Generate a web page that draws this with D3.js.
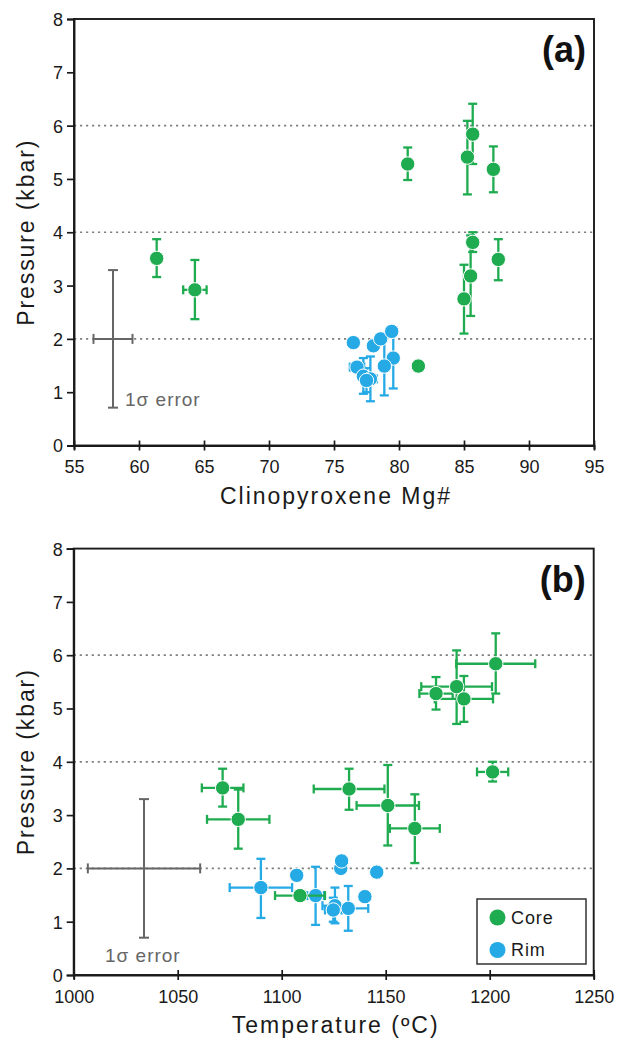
<!DOCTYPE html>
<html><head><meta charset="utf-8">
<script src="https://cdn.jsdelivr.net/npm/d3@7/dist/d3.min.js"></script>
<style>
html,body{margin:0;padding:0;background:#fff;}
svg{display:block;}
text{font-family:"Liberation Sans",Arial,Helvetica,sans-serif;}
</style></head>
<body>
<svg id="chart" width="617" height="1045"></svg>
<script>
// ---------- DATA ----------
// Core (green)
const coreMg   = [61.36, 64.3, 80.67, 85.26, 85.67, 87.26, 85.67, 87.64, 85.51, 85.0, 81.49];
const coreT    = [1071.6, 1079.1, 1174.2, 1184.1, 1202.9, 1187.6, 1201.4, 1132.4, 1151, 1164, 1108.8];
const coreP    = [3.51, 2.92, 5.28, 5.41, 5.84, 5.18, 3.81, 3.49, 3.18, 2.75, 1.49];
const corePLo  = [3.16, 2.37, 4.98, 4.71, 5.28, 4.75, 3.63, 3.10, 2.43, 2.10, 1.42];
const corePHi  = [3.87, 3.48, 5.59, 6.09, 6.41, 5.61, 4.00, 3.87, 3.94, 3.39, 1.58];
const coreMgErr= [0, 0.9, 0, 0, 0, 0, 0, 0, 0, 0, 0];
const coreTErr = [10, 15, 8, 17, 19, 14, 7.5, 17, 15, 12, 12];
// Rim (blue)
const rimMg    = [76.49, 78.03, 78.59, 79.44, 79.56, 78.87, 76.77, 77.26, 77.8, 77.5];
const rimT     = [1145.7, 1107.2, 1128.4, 1128.8, 1090, 1116.3, 1140, 1125.6, 1132, 1124.8];
const rimP     = [1.93, 1.87, 2.0, 2.14, 1.64, 1.49, 1.47, 1.30, 1.25, 1.22];
const rimPLo   = [1.93, 1.87, 2.0, 2.14, 1.07, 0.94, 1.47, 0.97, 0.83, 1.00];
const rimPHi   = [1.93, 1.87, 2.0, 2.14, 2.18, 2.03, 1.47, 1.64, 1.67, 1.45];
const rimMgErr = [0, 0, 0, 0, 0, 0, 0.55, 0.3, 0.5, 0.3];
const rimTErr  = [0, 0, 0, 0, 15, 4, 0, 6, 9.6, 4];
// Axes
const yTicks  = [0, 1, 2, 3, 4, 5, 6, 7, 8];
const mgTicks = [55, 60, 65, 70, 75, 80, 85, 90, 95];
const tTicks  = [1000, 1050, 1100, 1150, 1200, 1250];
const gridP   = [2, 4, 6];
// 1-sigma reference error crosses
const sigmaA = {x: 58.0, y: 2, xErr: 1.5, yLo: 0.71, yHi: 3.29};
const sigmaB = {x: 1033.8, y: 2, xErr: 27, yLo: 0.7, yHi: 3.3};
const legendLabels = ["Core", "Rim"];

// ---------- STYLE ----------
const GREEN = "#1fab4f", BLUE = "#25aae6", AX = "#1a1a1a", GRAY = "#666";
const svg = d3.select("#chart");

function buildSeries(mg, t, p, lo, hi, mgE, tE) {
  return mg.map((d, i) => ({mg: d, t: t[i], p: p[i], lo: lo[i], hi: hi[i], mgE: mgE[i], tE: tE[i]}));
}
const core = buildSeries(coreMg, coreT, coreP, corePLo, corePHi, coreMgErr, coreTErr);
const rim  = buildSeries(rimMg, rimT, rimP, rimPLo, rimPHi, rimMgErr, rimTErr);

function panel(opts) {
  const {x0, x1, yBot, yTop, xDomain, xTicks, xKey, xErrKey, xTitle, label, sigma, sigmaTextPos, legend} = opts;
  const x = d3.scaleLinear().domain(xDomain).range([x0, x1]);
  const y = d3.scaleLinear().domain([0, 8]).range([yBot, yTop]);
  const g = svg.append("g");

  // grid
  g.selectAll("line.grid").data(gridP).join("line")
    .attr("x1", x0).attr("x2", x1).attr("y1", d => y(d)).attr("y2", d => y(d))
    .attr("stroke", "#808080").attr("stroke-width", 1.7).attr("stroke-dasharray", "2.2,3.8");

  // frame
  g.append("rect").attr("x", x0).attr("y", yTop).attr("width", x1 - x0).attr("height", yBot - yTop)
    .attr("fill", "none").attr("stroke", AX).attr("stroke-width", 1.9);

  // axes
  const ya = d3.axisLeft(y).tickValues(yTicks).tickSize(7).tickPadding(4).tickFormat(d3.format("d"));
  const ga = g.append("g").attr("transform", `translate(${x0},0)`).call(ya);
  ga.select(".domain").attr("stroke", AX).attr("stroke-width", 1.9);
  ga.selectAll(".tick line").attr("stroke", AX).attr("stroke-width", 1.7).attr("x2", -7).attr("x1", 1);
  ga.selectAll(".tick text").attr("font-size", 18).attr("fill", AX).attr("dy", "0.36em")
    .attr("font-family", '"Liberation Sans",Arial,sans-serif');

  const xa = d3.axisBottom(x).tickValues(xTicks).tickSize(4).tickPadding(11).tickFormat(d3.format("d"));
  const gx = g.append("g").attr("transform", `translate(0,${yBot})`).call(xa);
  gx.select(".domain").attr("stroke", AX).attr("stroke-width", 1.9);
  gx.selectAll(".tick line").attr("stroke", AX).attr("stroke-width", 1.7).attr("y1", -5).attr("y2", 5);
  gx.selectAll(".tick text").attr("font-size", 18).attr("fill", AX)
    .attr("font-family", '"Liberation Sans",Arial,sans-serif');

  // titles
  g.append("text").attr("transform", `translate(34,${(yBot + yTop) / 2}) rotate(-90)`)
    .attr("text-anchor", "middle").attr("font-size", 23).attr("letter-spacing", 1.9).attr("fill", AX)
    .text("Pressure (kbar)");
  g.append("text").attr("x", (x0 + x1) / 2 + 2).attr("y", yBot + 58)
    .attr("text-anchor", "middle").attr("font-size", 23).attr("letter-spacing", 2).attr("fill", AX)
    .text(xTitle);
  g.append("text").attr("x", x1 - 8).attr("y", yTop + 43).attr("text-anchor", "end")
    .attr("font-size", 36).attr("font-weight", "bold").attr("fill", "#111").text(label);

  // sigma cross
  const sg = g.append("g").attr("stroke", GRAY).attr("stroke-width", 2);
  const sx = x(sigma.x), sy = y(sigma.y);
  sg.append("line").attr("x1", sx).attr("x2", sx).attr("y1", y(sigma.yLo)).attr("y2", y(sigma.yHi));
  sg.append("line").attr("x1", x(sigma.x - sigma.xErr)).attr("x2", x(sigma.x + sigma.xErr)).attr("y1", sy).attr("y2", sy);
  [[sx - 5, sx + 5, y(sigma.yLo), y(sigma.yLo)], [sx - 5, sx + 5, y(sigma.yHi), y(sigma.yHi)],
   [x(sigma.x - sigma.xErr), x(sigma.x - sigma.xErr), sy - 5, sy + 5],
   [x(sigma.x + sigma.xErr), x(sigma.x + sigma.xErr), sy - 5, sy + 5]].forEach(c =>
    sg.append("line").attr("x1", c[0]).attr("x2", c[1]).attr("y1", c[2]).attr("y2", c[3]));
  g.append("text").attr("x", sigmaTextPos[0]).attr("y", sigmaTextPos[1]).attr("font-size", 19)
    .attr("fill", GRAY).attr("letter-spacing", 1).text("1σ error");

  // points
  function drawSeries(data, color) {
    const eg = g.append("g").attr("stroke", color).attr("stroke-width", 2.3).attr("fill", "none");
    const cap = 4.5;
    data.forEach(d => {
      const cx = x(d[xKey]), cy = y(d.p);
      if (d.hi > d.lo) {
        eg.append("line").attr("x1", cx).attr("x2", cx).attr("y1", y(d.lo)).attr("y2", y(d.hi));
        eg.append("line").attr("x1", cx - cap).attr("x2", cx + cap).attr("y1", y(d.lo)).attr("y2", y(d.lo));
        eg.append("line").attr("x1", cx - cap).attr("x2", cx + cap).attr("y1", y(d.hi)).attr("y2", y(d.hi));
      }
      const e = d[xErrKey];
      if (e > 0) {
        const xl = x(d[xKey] - e), xr = x(d[xKey] + e);
        eg.append("line").attr("x1", xl).attr("x2", xr).attr("y1", cy).attr("y2", cy);
        eg.append("line").attr("x1", xl).attr("x2", xl).attr("y1", cy - cap).attr("y2", cy + cap);
        eg.append("line").attr("x1", xr).attr("x2", xr).attr("y1", cy - cap).attr("y2", cy + cap);
      }
    });
    g.append("g").selectAll("circle").data(data).join("circle")
      .attr("cx", d => x(d[xKey])).attr("cy", d => y(d.p)).attr("r", 7.2)
      .attr("fill", color).attr("stroke", "#fff").attr("stroke-width", 1);
  }
  drawSeries(rim, BLUE);
  drawSeries(core, GREEN);

  if (legend) {
    const lg = g.append("g");
    lg.append("rect").attr("x", 477).attr("y", 899).attr("width", 109).attr("height", 65)
      .attr("fill", "#fff").attr("stroke", "#333").attr("stroke-width", 1.5);
    [GREEN, BLUE].forEach((c, i) => {
      lg.append("circle").attr("cx", 497.5).attr("cy", 917.5 + i * 32.5).attr("r", 8).attr("fill", c);
      lg.append("text").attr("x", 511).attr("y", 917.5 + i * 32.5).attr("dy", "0.36em")
        .attr("font-size", 18).attr("letter-spacing", 0.9).attr("fill", AX).text(legendLabels[i]);
    });
  }
}

panel({x0: 74, x1: 594, yBot: 445.5, yTop: 19, xDomain: [55, 95], xTicks: mgTicks, xKey: "mg", xErrKey: "mgE",
  xTitle: "Clinopyroxene Mg#", label: "(a)", sigma: sigmaA, sigmaTextPos: [125, 406], legend: false});
panel({x0: 73.7, x1: 593.7, yBot: 975, yTop: 548.6, xDomain: [1000, 1250], xTicks: tTicks, xKey: "t", xErrKey: "tE",
  xTitle: "Temperature (ºC)", label: "(b)", sigma: sigmaB, sigmaTextPos: [105, 962], legend: true});
</script>
</body></html>
